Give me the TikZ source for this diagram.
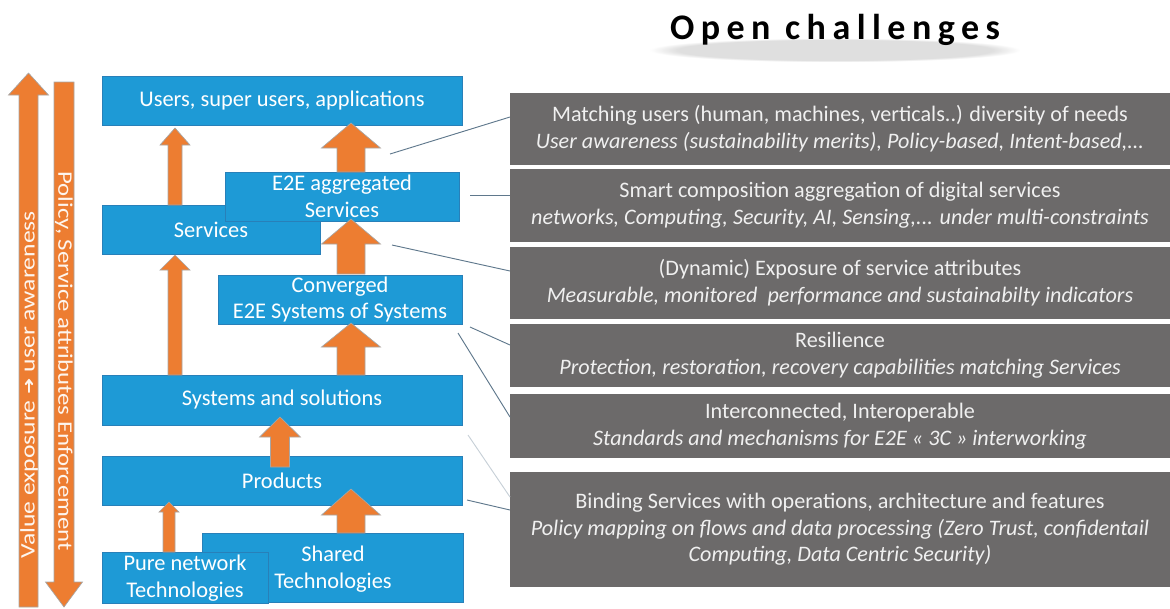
\documentclass[tikz,border=0pt]{standalone}
\usepackage{fontspec}
\usetikzlibrary{fadings}
\setmainfont{Carlito}
\newfontfamily\dejavu{DejaVu Sans}
\newfontfamily\titlefont{Carlito}[LetterSpace=18]
\definecolor{boxblue}{RGB}{30,154,214}
\definecolor{boxedge}{RGB}{40,128,185}
\definecolor{orangeA}{RGB}{237,125,49}
\definecolor{greybox}{RGB}{108,106,106}
\definecolor{linkc}{RGB}{95,120,140}
\tikzset{
  x=0.75pt, y=-0.75pt,
  bluebox/.style={fill=boxblue, draw=boxedge, line width=0.4pt, text=white, align=center,
    font=\fontsize{16.8}{20}\selectfont, inner sep=0pt},
  greyb/.style={fill=greybox, draw=none, text=white!94!black, align=center,
    font=\fontsize{16.6}{20}\selectfont, inner sep=0pt, minimum width=495pt},
  orarrow/.style={fill=orangeA, draw=gray!70, line width=0.5pt, line join=miter},
  link/.style={draw=linkc, line width=0.7pt},
  sidetext/.style={text=white!92!orangeA, font=\fontsize{15.5}{18}\selectfont, inner sep=0pt}
}
% #1 cx, #2 tip y, #3 head base y, #4 bottom y, #5 half shaft, #6 half head
\newcommand\blockup[6]{%
  \draw[orarrow] (#1-#6,#3) -- (#1,#2) -- (#1+#6,#3) -- (#1+#5,#3) -- (#1+#5,#4)
    -- (#1-#5,#4) -- (#1-#5,#3) -- cycle;}
\begin{document}
\begin{tikzpicture}
\useasboundingbox (0,0) rectangle (1170,608);

% title with soft shadow
\fill[gray, opacity=0.25, path fading=circle with fuzzy edge 15 percent] (650,38) rectangle (1020,62);
\node (title) [font=\titlefont\bfseries\fontsize{27}{30}\selectfont, text=black] at (835,30) {Open challenges};

% left orange arrows
\blockup{28.5}{73}{95}{607}{9.5}{20}
\blockup{64}{607}{582}{82}{10}{18.5}
\node (valtxt) [sidetext, rotate=90] at (29,385) {\scalebox{1.24}[1]{Value exposure {\dejavu\fontsize{12}{12}\selectfont ➜} user awareness}};
\node (poltxt) [sidetext, rotate=-90] at (64,361) {\scalebox{1.2}[1]{Policy, Service attributes Enforcement}};

% blue boxes
\node (users) [bluebox, minimum width=270pt, minimum height=36.75pt] at (282,100.5) {Users, super users, applications};
\node (services) [bluebox, minimum width=163.5pt, minimum height=36.75pt] at (211,229.5) {Services};
\node (agg) [bluebox, minimum width=175.5pt, minimum height=36.75pt] at (342,196.5) {E2E aggregated\\Services};
\node (conv) [bluebox, minimum width=183pt, minimum height=36.75pt] at (340,299.5) {Converged\\E2E Systems of Systems};
\node (systems) [bluebox, minimum width=270pt, minimum height=37.5pt] at (282,400) {Systems and solutions};
\node (products) [bluebox, minimum width=270pt, minimum height=36.75pt] at (282,480.5) {Products};
\node (shared) [bluebox, minimum width=195.75pt, minimum height=51.75pt] at (332.5,567.5) {};
\node (sharedtxt) [text=white, align=center, font=\fontsize{16.8}{20}\selectfont] at (333,569) {Shared\\Technologies};
\node (pure) [bluebox, minimum width=124.5pt, minimum height=38.25pt] at (185,578) {Pure network\\Technologies};

% orange block arrows between boxes
\blockup{175}{128}{145}{205}{7}{15}
\blockup{351}{123}{148}{172}{14}{29.5}
\blockup{351}{219}{244}{274}{14}{29.5}
\blockup{175}{255}{270}{375}{7}{15}
\blockup{351}{323}{347}{375}{14}{29.5}
\blockup{280}{417}{437}{467}{9.5}{20.5}
\blockup{169}{502}{512}{552}{6}{10}
\blockup{351}{489}{515}{533}{14}{29.5}

% grey challenge boxes
\node (c1) [greyb, minimum height=54pt] at (840,129) {Matching users (human, machines, verticals..) diversity of needs\\\textit{User awareness (sustainability merits), Policy-based, Intent-based,...}};
\node (c2) [greyb, minimum height=54.75pt] at (840,205.5) {Smart composition aggregation of digital services\\\textit{networks, Computing, Security, AI, Sensing,... under multi-constraints}};
\node (c3) [greyb, minimum height=54pt] at (840,283) {(Dynamic) Exposure of service attributes\\\textit{Measurable, monitored\ \ performance and sustainabilty indicators}};
\node (c4) [greyb, minimum height=47.25pt] at (840,355.5) {Resilience\\\textit{Protection, restoration, recovery capabilities matching Services}};
\node (c5) [greyb, minimum height=48pt] at (840,426) {Interconnected, Interoperable\\\textit{Standards and mechanisms for E2E « 3C » interworking}};
\node (c6) [greyb, minimum height=86.25pt] at (840,529.5) {Binding Services with operations, architecture and features\\\textit{Policy mapping on flows and data processing (Zero Trust, confidentail}\\\textit{Computing, Data Centric Security)}};

% link lines
\coordinate (l1a) at (390,154); \coordinate (l1b) at (510,117);
\coordinate (l2a) at (470,195); \coordinate (l2b) at (510,195);
\coordinate (l3a) at (392,245); \coordinate (l3b) at (510,271);
\coordinate (l4a) at (470,327); \coordinate (l4b) at (510,345);
\coordinate (l5a) at (458,333); \coordinate (l5b) at (510,417);
\coordinate (l6a) at (468,435); \coordinate (l6b) at (510,497);
\coordinate (l7a) at (467,500); \coordinate (l7b) at (510,510);
\draw[link] (l1a) -- (l1b);
\draw[link] (l2a) -- (l2b);
\draw[link] (l3a) -- (l3b);
\draw[link] (l4a) -- (l4b);
\draw[link] (l5a) -- (l5b);
\draw[link, draw=linkc!35] (l6a) -- (l6b);
\draw[link] (l7a) -- (l7b);
\end{tikzpicture}
\end{document}
